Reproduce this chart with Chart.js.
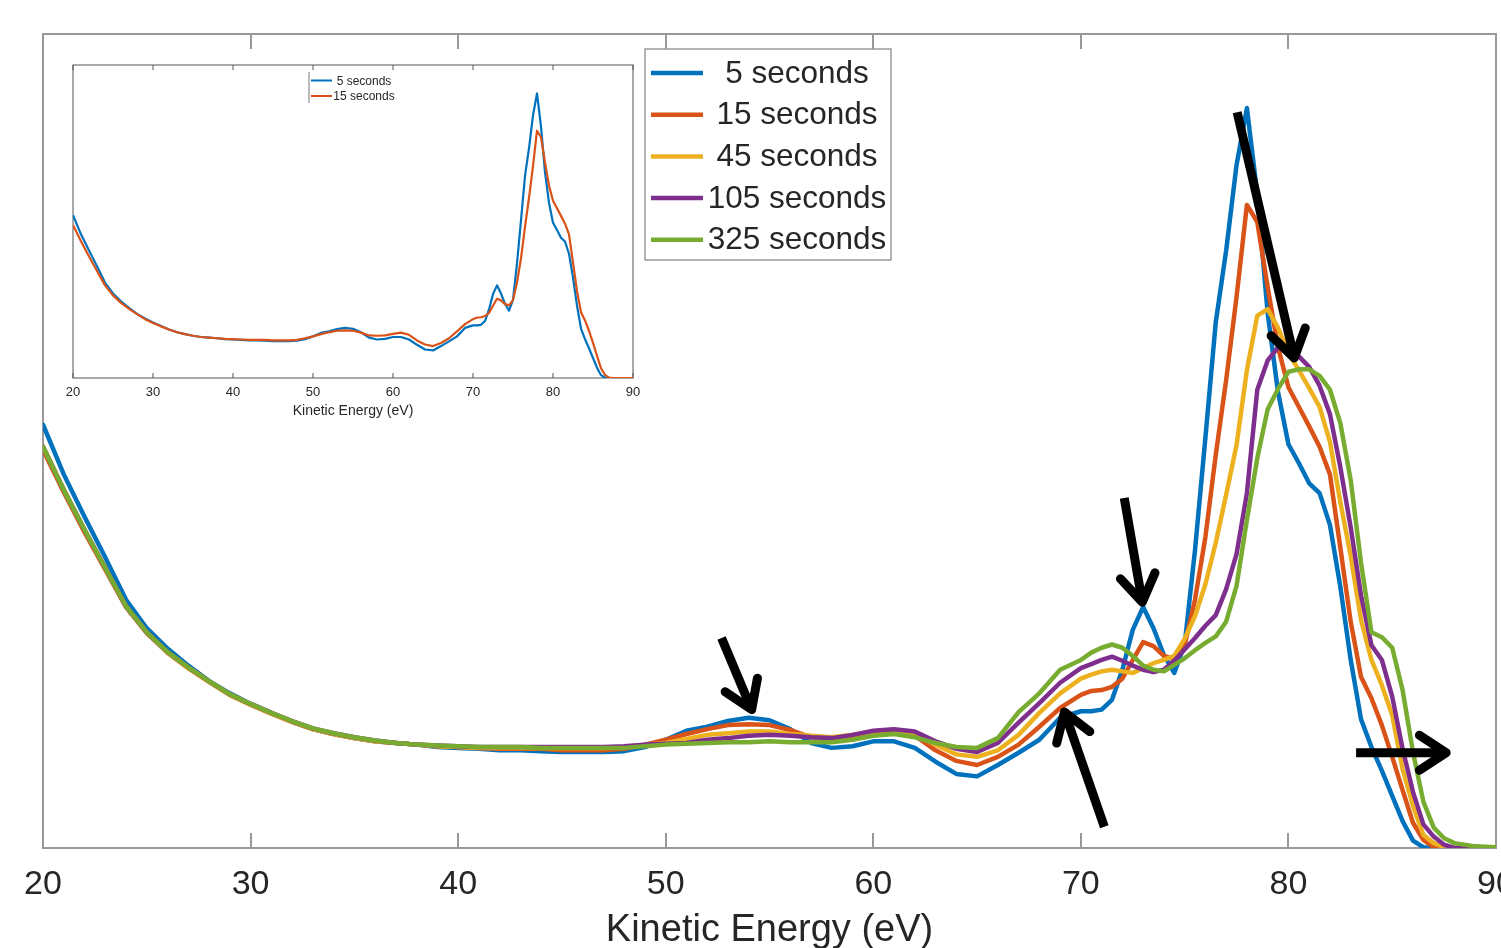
<!DOCTYPE html>
<html>
<head>
<meta charset="utf-8">
<title>Kinetic Energy spectra</title>
<script src="https://cdn.jsdelivr.net/npm/chart.js@4.4.1/dist/chart.umd.min.js"></script>
<style>
  html, body { margin: 0; padding: 0; background: #fff; }
  #wrap { position: relative; width: 1501px; height: 948px; overflow: hidden; }
  #main { position: absolute; left: 0; top: 0; }
  #inset { position: absolute; left: 45px; top: 50px; }
</style>
</head>
<body>
<div id="wrap">
  <canvas id="main" width="1501" height="948"></canvas>
  <canvas id="inset" width="610" height="375"></canvas>
</div>
<script>
// Kinetic energy grid (eV) and intensities (arb. units) per exposure time
const energy = [20,21,22,23,24,25,26,27,28,29,30,31,32,33,34,35,36,37,38,39,
  40,41,42,43,44,45,46,47,48,49,50,51,52,53,54,55,56,57,58,59,
  60,61,62,63,64,65,66,67,68,69,70,
  70.5,71,71.5,72,72.5,73,73.5,74,74.5,75,75.5,76,76.5,77,77.5,78,78.5,79,79.5,80,
  80.5,81,81.5,82,82.5,83,83.5,84,84.5,85,85.5,86,86.5,87,87.5,88,89,90];

const sec5 = [52.0,45.9,40.7,35.7,30.5,27.0,24.5,22.4,20.5,19.0,
  17.7,16.6,15.5,14.6,14.0,13.5,13.1,12.9,12.7,12.4,
  12.3,12.2,12.0,12.0,11.9,11.8,11.8,11.8,11.9,12.4,
  13.3,14.4,14.9,15.6,16.0,15.7,14.6,12.9,12.3,12.5,
  13.1,13.1,12.3,10.6,9.1,8.8,10.2,11.7,13.3,16.0,16.8,
  16.8,17.0,18.2,21.9,26.8,29.6,27.0,23.7,21.5,25.0,
  36.6,50.4,64.6,73.4,83.9,90.9,80.3,65.7,56.0,49.6,
  47.3,44.8,43.6,39.7,32.1,23.1,15.8,12.4,9.5,6.4,
  3.3,0.9,0.1,0,0,0,0,0];

const sec15 = [48.9,43.7,38.8,34.2,29.6,26.4,24.0,22.1,20.4,18.8,
  17.6,16.5,15.5,14.6,14.0,13.5,13.1,12.9,12.7,12.5,
  12.4,12.3,12.2,12.2,12.2,12.0,12.0,12.0,12.2,12.7,
  13.3,14.0,14.6,15.1,15.2,15.1,14.5,13.6,13.5,13.6,
  14.1,14.5,13.8,12.0,10.7,10.2,11.2,12.7,14.9,17.2,18.8,
  19.3,19.4,19.8,20.8,23.1,25.3,24.8,23.6,23.2,24.9,
  30.5,38.2,48.3,57.5,67.7,79.0,76.9,68.9,61.5,56.6,
  54.2,51.8,49.3,45.9,36.9,27.8,21.0,18.4,15.1,11.2,
  7.1,3.1,1.0,0.1,0,0,0,0];

const sec45 = [49.3,44.0,39.1,34.4,29.7,26.5,24.0,22.1,20.4,18.8,
  17.6,16.5,15.5,14.6,14.0,13.5,13.1,12.9,12.7,12.5,
  12.4,12.3,12.3,12.3,12.3,12.3,12.3,12.3,12.4,12.7,
  12.9,13.4,13.9,14.1,14.3,14.3,14.0,13.8,13.6,13.9,
  14.3,14.5,14.0,12.7,11.5,11.2,12.0,13.9,16.6,19.0,20.8,
  21.3,21.7,21.9,21.7,21.5,22.1,22.7,23.1,23.6,25.7,
  28.5,32.4,37.5,43.4,49.5,58.7,65.4,66.2,63.9,60.8,
  58.7,56.5,54.2,49.9,42.5,35.9,28.0,23.1,20.0,16.3,
  9.7,5.2,1.6,0.6,0.1,0,0,0];

const sec105 = [49.3,44.0,39.1,34.4,29.7,26.5,24.1,22.2,20.5,18.9,
  17.7,16.6,15.6,14.7,14.1,13.6,13.2,12.9,12.7,12.6,
  12.5,12.4,12.4,12.4,12.4,12.4,12.4,12.4,12.5,12.7,
  12.8,12.9,13.3,13.5,13.8,13.9,13.8,13.6,13.5,13.9,
  14.4,14.6,14.3,13.1,12.2,11.8,12.9,15.4,17.8,20.3,22.1,
  22.6,23.1,23.5,23.0,22.4,21.9,21.6,21.9,23.0,24.4,
  25.8,27.3,28.6,31.8,36.1,43.6,56.3,59.9,61.5,61.3,
  60.4,59.1,56.8,53.3,46.8,39.4,31.0,24.9,23.1,18.6,
  12.2,6.9,2.9,1.4,0.4,0,0,0];

const sec325 = [49.3,44.0,39.1,34.4,29.7,26.5,24.1,22.2,20.5,18.9,
  17.7,16.6,15.6,14.7,14.1,13.6,13.2,12.9,12.7,12.6,
  12.5,12.4,12.4,12.4,12.3,12.3,12.3,12.3,12.3,12.5,
  12.7,12.8,12.9,13.0,13.0,13.1,13.0,13.0,13.0,13.3,
  13.8,14.0,13.6,12.9,12.4,12.3,13.5,16.7,19.0,21.9,23.1,
  24.0,24.6,25.0,24.6,23.6,22.4,21.9,21.7,22.5,23.3,
  24.3,25.2,26.0,27.8,32.2,40.3,47.9,53.9,56.4,58.5,
  58.8,58.8,58.0,56.3,52.2,45.2,35.0,26.5,25.9,24.6,
  19.4,11.8,5.7,2.5,1.2,0.6,0.2,0.1];

const seriesLabels = ['5 seconds', '15 seconds', '45 seconds', '105 seconds', '325 seconds'];
const tickValues = [20, 30, 40, 50, 60, 70, 80, 90];

// arrow annotations, [fromE, fromI, toE, toI] in axis units
const arrows = [
  [77.53, 90.4, 80.28, 60.2],
  [72.09, 43.0, 72.96, 30.2],
  [52.69, 25.8, 54.14, 17.0],
  [71.13, 2.6, 69.21, 16.7],
  [83.26, 11.7, 87.6, 11.7]
];

const colors = ['#0072BD', '#D95319', '#EDB120', '#7E2F8E', '#77AC30'];
const FONT = '"Liberation Sans", Arial, Helvetica, sans-serif';
const TEXT = '#262626';

function pts(values) {
  return energy.map((e, i) => ({ x: e, y: values[i] }));
}

// box around the plot area with inward ticks on top and bottom
const frame = {
  id: 'frame',
  beforeDatasetsDraw(chart, args, o) {
    const { ctx, chartArea: a, scales: { x } } = chart;
    ctx.save();
    ctx.strokeStyle = o.color;
    ctx.lineWidth = o.width;
    ctx.strokeRect(a.left, a.top, a.right - a.left, a.bottom - a.top);
    ctx.beginPath();
    x.ticks.forEach(t => {
      const px = Math.round(x.getPixelForValue(t.value));
      ctx.moveTo(px, a.bottom);
      ctx.lineTo(px, a.bottom - o.tick);
      ctx.moveTo(px, a.top);
      ctx.lineTo(px, a.top + o.tick);
    });
    ctx.stroke();
    ctx.restore();
  }
};

const boxLegend = {
  id: 'boxLegend',
  afterDraw(chart, args, o) {
    const ctx = chart.ctx;
    ctx.save();
    ctx.fillStyle = '#fff';
    ctx.fillRect(o.x, o.y, o.w, o.h);
    ctx.strokeStyle = o.border;
    ctx.lineWidth = o.borderWidth;
    if (o.leftOnly) {
      ctx.beginPath();
      ctx.moveTo(o.x, o.y);
      ctx.lineTo(o.x, o.y + o.h);
      ctx.stroke();
    } else {
      ctx.strokeRect(o.x, o.y, o.w, o.h);
    }
    ctx.font = o.fontSize + 'px ' + FONT;
    ctx.textAlign = 'center';
    ctx.textBaseline = 'middle';
    chart.data.datasets.forEach((ds, i) => {
      const y = o.y + o.first + i * o.step;
      ctx.strokeStyle = ds.borderColor;
      ctx.lineWidth = o.lineWidth;
      ctx.beginPath();
      ctx.moveTo(o.x + o.lineFrom, y);
      ctx.lineTo(o.x + o.lineTo, y);
      ctx.stroke();
      ctx.fillStyle = TEXT;
      ctx.fillText(ds.label, o.x + o.textCenter, y + 1);
    });
    ctx.restore();
  }
};

const arrowMarks = {
  id: 'arrowMarks',
  afterDatasetsDraw(chart) {
    const { ctx, scales: { x, y } } = chart;
    const head = 32, spread = 0.58;
    ctx.save();
    ctx.strokeStyle = '#000';
    ctx.lineWidth = 9;
    ctx.lineJoin = 'round';
    arrows.forEach(a => {
      const x0 = x.getPixelForValue(a[0]), y0 = y.getPixelForValue(a[1]);
      const x1 = x.getPixelForValue(a[2]), y1 = y.getPixelForValue(a[3]);
      const ang = Math.atan2(y1 - y0, x1 - x0);
      ctx.lineCap = 'butt';
      ctx.beginPath();
      ctx.moveTo(x0, y0);
      ctx.lineTo(x1 - 4 * Math.cos(ang), y1 - 4 * Math.sin(ang));
      ctx.stroke();
      ctx.lineCap = 'round';
      ctx.beginPath();
      ctx.moveTo(x1 - head * Math.cos(ang - spread), y1 - head * Math.sin(ang - spread));
      ctx.lineTo(x1, y1);
      ctx.lineTo(x1 - head * Math.cos(ang + spread), y1 - head * Math.sin(ang + spread));
      ctx.stroke();
    });
    ctx.restore();
  }
};

function xScale(fontSize, titleSize, titleLine, tickPad, titlePad, height) {
  return {
    type: 'linear',
    min: 20,
    max: 90,
    border: { display: false },
    grid: { display: false, drawTicks: false },
    afterBuildTicks: s => { s.ticks = tickValues.map(v => ({ value: v })); },
    ticks: {
      color: TEXT,
      font: { family: FONT, size: fontSize },
      padding: tickPad,
      maxRotation: 0,
      autoSkip: false
    },
    title: {
      display: true,
      text: 'Kinetic Energy (eV)',
      color: TEXT,
      font: { family: FONT, size: titleSize, lineHeight: titleLine },
      padding: { top: 0, bottom: titlePad }
    },
    afterFit: s => { s.height = height; s.paddingLeft = 0; s.paddingRight = 0; }
  };
}

const order = [5, 4, 3, 2, 1];
const allSeries = [sec5, sec15, sec45, sec105, sec325];

new Chart(document.getElementById('main'), {
  type: 'line',
  data: {
    datasets: allSeries.map((s, i) => ({
      label: seriesLabels[i],
      data: pts(s),
      borderColor: colors[i],
      borderWidth: 4.5,
      order: order[i]
    }))
  },
  options: {
    responsive: false,
    animation: false,
    events: [],
    parsing: false,
    layout: { padding: { left: 43, right: 5, top: 34, bottom: 0 } },
    elements: {
      point: { radius: 0 },
      line: { tension: 0, borderJoinStyle: 'round', borderCapStyle: 'round' }
    },
    plugins: {
      legend: { display: false },
      tooltip: { enabled: false },
      frame: { color: '#999999', width: 2, tick: 15 },
      boxLegend: {
        x: 645, y: 49, w: 246, h: 211,
        border: '#9a9a9a', borderWidth: 1.5,
        first: 24, step: 41.7,
        lineFrom: 6, lineTo: 58, lineWidth: 4.5,
        textCenter: 152, fontSize: 31.5
      }
    },
    scales: {
      x: xScale(34, 38, 0.9, 16, 0, 100),
      y: { display: false, min: 0, max: 100 }
    }
  },
  plugins: [frame, arrowMarks, boxLegend]
});

new Chart(document.getElementById('inset'), {
  type: 'line',
  data: {
    datasets: [sec5, sec15].map((s, i) => ({
      label: seriesLabels[i],
      data: pts(s),
      borderColor: colors[i],
      borderWidth: 2.2,
      order: order[i]
    }))
  },
  options: {
    responsive: false,
    animation: false,
    events: [],
    parsing: false,
    layout: { padding: { left: 28, right: 22, top: 15, bottom: 0 } },
    elements: {
      point: { radius: 0 },
      line: { tension: 0, borderJoinStyle: 'round' }
    },
    plugins: {
      legend: { display: false },
      tooltip: { enabled: false },
      frame: { color: '#555555', width: 1, tick: 5 },
      boxLegend: {
        x: 264, y: 22, w: 88, h: 31, leftOnly: true,
        border: '#777777', borderWidth: 1,
        first: 8.5, step: 15.5,
        lineFrom: 2, lineTo: 23, lineWidth: 2,
        textCenter: 55, fontSize: 12
      }
    },
    scales: {
      x: xScale(13, 14, 1.2, 7, 5, 47),
      y: { display: false, min: 0, max: 100 }
    }
  },
  plugins: [frame, boxLegend]
});
</script>
</body>
</html>
